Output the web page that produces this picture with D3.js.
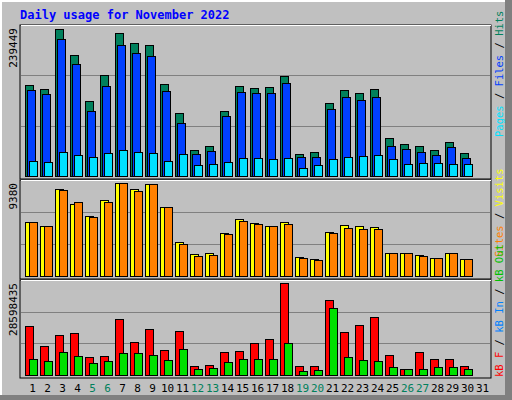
<!DOCTYPE html>
<html>
<head>
<meta charset="utf-8">
<script src="https://cdn.jsdelivr.net/npm/d3@7"></script>
<style>
  body { margin: 0; background: #fff; }
  svg text { font-family: "DejaVu Sans Mono", monospace; }
</style>
</head>
<body>
<svg id="chart" width="512" height="400"></svg>
<script>
//

const days = d3.range(1, 32)
const weekend = [5, 6, 12, 13, 19, 20, 26, 27]

const hits = [148200, 141700, 239449, 197100, 122200, 164500, 232900, 216700, 213400, 149900,
  102600, 42400, 48900, 105900, 146600, 143400, 145000, 162900, 35800, 39100,
  118900, 140100, 135200, 141700, 61900, 52100, 48900, 42400, 55400, 37500]
const files = [140100, 133600, 223200, 182400, 105900, 146600, 213400, 200400, 195500, 138500,
  86300, 35800, 40700, 97700, 136800, 135200, 135200, 151500, 31000, 31000,
  109100, 128700, 123800, 128700, 48900, 44000, 39100, 34200, 47200, 29300]
const pages = [24400, 22800, 39100, 34200, 31000, 37500, 42400, 39100, 37500, 24400,
  35800, 17900, 19500, 22800, 29300, 29300, 27700, 29300, 13000, 17900,
  27700, 31000, 32600, 34200, 27700, 19500, 21200, 21200, 19500, 19500]

const visits = [5410, 5000, 8770, 7240, 6020, 7650, 9380, 8770, 9280, 6940,
  3470, 2240, 2350, 4280, 5710, 5300, 5000, 5410, 1940, 1730,
  4390, 5100, 5000, 4900, 2350, 2350, 2140, 1840, 2350, 1730]
const sites = [5410, 5000, 8670, 7450, 5920, 7450, 9380, 8570, 9280, 6940,
  3260, 2040, 2140, 4180, 5510, 5200, 5000, 5200, 1840, 1630,
  4280, 4790, 4690, 4690, 2350, 2350, 2040, 1840, 2350, 1730]

const kbF = [15085000, 9114000, 12256000, 12885000, 5657000, 5971000, 17285000, 10371000, 14142000, 7857000,
  13514000, 2828000, 3143000, 7228000, 7542000, 10057000, 11314000, 28598435, 2828000, 2828000,
  23256000, 13199000, 15399000, 17913000, 6285000, 1886000, 7228000, 5028000, 5028000, 2828000]
const kbOut = [5028000, 4400000, 7228000, 5971000, 3771000, 4400000, 6914000, 6914000, 6285000, 4714000,
  8171000, 1886000, 2200000, 4085000, 5028000, 5028000, 5028000, 10057000, 1257000, 1571000,
  20742000, 5657000, 4714000, 4400000, 2514000, 1886000, 1886000, 2514000, 2514000, 1886000]

//

const svg = d3.select('#chart')

// frame with bevel
svg.append('rect').attr('width', 512).attr('height', 400).attr('fill', '#808080')
svg.append('rect').attr('width', 505).attr('height', 395).attr('fill', '#fff')
svg.append('rect').attr('x', 2).attr('y', 2).attr('width', 503).attr('height', 393).attr('fill', '#c0c0c0')
svg.append('rect').attr('x', 5).attr('y', 5).attr('width', 500).attr('height', 390).attr('fill', '#c0c0c0')

svg.append('text').attr('x', 20).attr('y', 19)
  .attr('font-size', 12).attr('font-weight', 'bold').attr('fill', '#0000ff')
  .text('Daily usage for November 2022')

const x = d3.scaleBand().domain(days).range([21, 486]).paddingInner(0)

function panel (top, bottom, max, label, series) {
  svg.append('rect').attr('x', 20).attr('y', top).attr('width', 471).attr('height', bottom - top + 3)
    .attr('fill', '#c0c0c0').attr('stroke', '#000').attr('stroke-width', 1)
  svg.append('line').attr('x1', 21).attr('x2', 491).attr('y1', top + 0.5).attr('y2', top + 0.5).attr('stroke', '#fff')
  const y = d3.scaleLinear().domain([0, max * 1.03]).range([bottom, top])
  const h = bottom - top
  ;[1 / 3, 2 / 3].forEach((f) => {
    svg.append('line').attr('x1', 21).attr('x2', 490)
      .attr('y1', Math.round(bottom - h * f) + 0.5).attr('y2', Math.round(bottom - h * f) + 0.5)
      .attr('stroke', '#808080')
  })
  svg.append('text')
    .attr('transform', `translate(17,${top + 3}) rotate(-90)`)
    .attr('text-anchor', 'end').attr('font-size', 11)
    .attr('font-family', 'DejaVu Sans, sans-serif')
    .text(label)
  series.forEach((s) => {
    svg.append('g').selectAll('rect').data(s.values).join('rect')
      .attr('x', (d, i) => x(i + 1) + 4 + s.offset + 0.5)
      .attr('y', (d) => Math.round(y(d)) + 0.5)
      .attr('width', 8)
      .attr('height', (d) => bottom - Math.round(y(d)))
      .attr('fill', s.color).attr('stroke', '#000')
  })
}

panel(25, 176, 239449, '239449', [
  { values: hits, color: '#00805c', offset: 0 },
  { values: files, color: '#0040ff', offset: 2 },
  { values: pages, color: '#00e0ff', offset: 4 }
])
panel(180, 276, 9380, '9380', [
  { values: visits, color: '#ffff00', offset: 0 },
  { values: sites, color: '#ff8000', offset: 4 }
])
panel(280, 375, 28598435, '28598435', [
  { values: kbF, color: '#ff0000', offset: 0 },
  { values: kbOut, color: '#00e000', offset: 4 }
])

// day labels
svg.append('g').selectAll('text').data(days).join('text')
  .attr('x', (d) => x(d) + x.bandwidth() / 2 + 4)
  .attr('y', 392)
  .attr('text-anchor', 'middle')
  .attr('font-size', 11)
  .attr('font-family', 'DejaVu Sans, sans-serif')
  .attr('fill', (d) => weekend.includes(d) ? '#00805c' : '#000')
  .text((d) => d)

// right side legends
function sideLabel (yStart, parts) {
  const t = svg.append('text')
    .attr('transform', `translate(503,${yStart}) rotate(-90)`)
    .attr('font-size', 10.5)
  parts.forEach(([s, c]) => t.append('tspan').attr('fill', c).text(s))
}
sideLabel(137, [['Pages', '#00e0ff'], [' / ', '#000'], ['Files', '#0040ff'], [' / ', '#000'], ['Hits', '#00805c']])
sideLabel(257, [['Sites', '#ff8000'], [' / ', '#000'], ['Visits', '#ffff00']])
sideLabel(377, [['kB F', '#ff0000'], [' / ', '#000'], ['kB In', '#0080ff'], [' / ', '#000'], ['kB Out', '#00c000']])
</script>
</body>
</html>
